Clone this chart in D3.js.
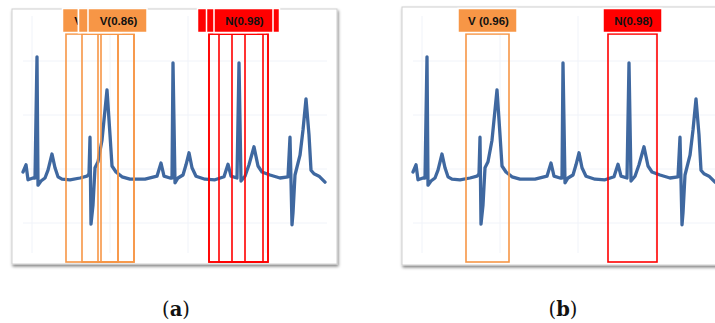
<!DOCTYPE html>
<html>
<head>
<meta charset="utf-8">
<script src="https://cdn.jsdelivr.net/npm/d3@7"></script>
<style>
body { margin: 0; background: #fff; }
</style>
</head>
<body>
<svg id="chart" width="715" height="323"></svg>
<script>
// ecg trace: [time (s), amplitude (mV)]
var ecg = [
	[0.00, 0.10], [0.03, 0.22], [0.05, -0.03], [0.10, 0.00], [0.12, 0.00], [0.14, 2.02],
	[0.15, -0.12], [0.18, -0.05], [0.22, 0.00], [0.25, 0.13], [0.29, 0.40], [0.32, 0.17],
	[0.35, 0.02], [0.39, -0.02], [0.47, -0.03], [0.57, 0.00], [0.64, 0.03], [0.66, 0.07],
	[0.67, 0.68], [0.68, -0.77], [0.70, -0.45], [0.72, 0.17], [0.75, 0.27], [0.79, 0.63],
	[0.84, 1.47], [0.87, 0.72], [0.89, 0.20], [0.93, 0.10], [0.99, 0.02], [1.07, -0.02],
	[1.22, -0.02], [1.34, 0.03], [1.38, 0.25], [1.41, 0.03], [1.47, 0.00], [1.49, 0.00],
	[1.50, 1.92], [1.52, -0.08], [1.55, 0.00], [1.60, 0.05], [1.63, 0.22], [1.66, 0.42],
	[1.69, 0.17], [1.73, 0.03], [1.82, -0.02], [1.92, -0.03], [2.01, 0.02], [2.05, 0.23],
	[2.08, 0.03], [2.14, 0.00], [2.16, 1.92], [2.18, -0.05], [2.22, 0.03], [2.26, 0.22],
	[2.31, 0.52], [2.35, 0.20], [2.39, 0.10], [2.47, 0.05], [2.57, 0.00], [2.65, 0.02],
	[2.67, 0.68], [2.69, -0.78], [2.70, -0.58], [2.72, 0.05], [2.77, 0.38], [2.80, 0.80],
	[2.83, 1.32], [2.86, 0.72], [2.88, 0.13], [2.91, 0.07], [2.96, 0.03], [3.02, -0.07]
];

var gridTime = [0.09, 0.87, 1.65, 2.43];
var gridValue = [-0.75, 0.15, 1.05, 1.95];

// detections, panel (a): many overlapping windows (covered labels show no text)
var detA = [
	{start: 0.43, end: 0.95, cls: 'V', label: 'V(0.86)'},
	{start: 0.75, end: 0.95, cls: 'V', label: ''},
	{start: 0.59, end: 1.11, cls: 'V', label: ''},
	{start: 0.78, end: 1.11, cls: 'V', label: 'V(0.86)'},
	{start: 1.86, end: 2.22, cls: 'N', label: ''},
	{start: 1.86, end: 2.40, cls: 'N', label: ''},
	{start: 2.09, end: 2.45, cls: 'N', label: ''},
	{start: 1.96, end: 2.45, cls: 'N', label: 'N(0.98)'}
];
// detections, panel (b): after merging
var detB = [
	{start: 0.53, end: 0.96, cls: 'V', label: 'V (0.96)'},
	{start: 1.95, end: 2.44, cls: 'N', label: 'N(0.98)'}
];

var captions = ['a', 'b'];

var colors = {V: '#f79646', N: '#ff0000'};
var boxTop = 2.4, boxBottom = -1.4;

var svg = d3.select('#chart');

var defs = svg.append('defs');
var shadow = defs.append('filter').attr('id', 'shadow')
	.attr('x', '-5%').attr('y', '-5%').attr('width', '110%').attr('height', '110%');
shadow.append('feDropShadow')
	.attr('dx', 1).attr('dy', 2).attr('stdDeviation', 1.6)
	.attr('flood-color', '#000').attr('flood-opacity', 0.5);

var panels = [
	{left: 12, top: 9, height: 255, dets: detA, caption: captions[0], capX: 176},
	{left: 402, top: 7, height: 258, dets: detB, caption: captions[1], capX: 563}
];

var y = d3.scaleLinear().domain([-1.5, 2.5]).range([268, 28]);

panels.forEach(function(p){
	var g = svg.append('g');
	var x = d3.scaleLinear().domain([0, 3]).range([p.left + 11, p.left + 311]);

	g.append('rect')
		.attr('x', p.left).attr('y', p.top)
		.attr('width', 325).attr('height', p.height)
		.attr('fill', '#fff')
		.attr('stroke', '#cfcfcf')
		.attr('stroke-width', 1)
		.attr('filter', 'url(#shadow)');

	// faint grid
	g.selectAll('.hg').data(gridValue).enter().append('line')
		.attr('x1', x(0)).attr('x2', x(3.04))
		.attr('y1', y).attr('y2', y)
		.attr('stroke', '#f0f3f9').attr('stroke-width', 1);
	g.selectAll('.vg').data(gridTime).enter().append('line')
		.attr('x1', x).attr('x2', x)
		.attr('y1', y(2.7)).attr('y2', y(-1.25))
		.attr('stroke', '#f0f3f9').attr('stroke-width', 1);

	var line = d3.line()
		.x(function(d){ return x(d[0]); })
		.y(function(d){ return y(d[1]); });

	g.append('path')
		.datum(ecg)
		.attr('d', line)
		.attr('fill', 'none')
		.attr('stroke', '#3f68a0')
		.attr('stroke-width', 3.3)
		.attr('stroke-linejoin', 'round')
		.attr('stroke-linecap', 'round');

	g.selectAll('.box').data(p.dets).enter().append('rect')
		.attr('x', function(d){ return x(d.start); })
		.attr('y', y(boxTop))
		.attr('width', function(d){ return x(d.end) - x(d.start); })
		.attr('height', y(boxBottom) - y(boxTop))
		.attr('fill', 'none')
		.attr('stroke', function(d){ return colors[d.cls]; })
		.attr('stroke-width', 1.6);

	var lab = g.selectAll('.lab').data(p.dets).enter().append('g');
	lab.append('rect')
		.attr('x', function(d){ return (x(d.start) + x(d.end)) / 2 - 29.5; })
		.attr('y', 8.5)
		.attr('width', 59).attr('height', 24)
		.attr('fill', function(d){ return colors[d.cls]; })
		.attr('stroke', '#fff').attr('stroke-width', 1.5);
	lab.append('text')
		.attr('x', function(d){ return (x(d.start) + x(d.end)) / 2 + 1; })
		.attr('y', 25)
		.attr('text-anchor', 'middle')
		.attr('font-family', 'Liberation Sans, Arial, sans-serif')
		.attr('font-weight', 'bold')
		.attr('font-size', '11.5px')
		.attr('fill', '#111')
		.text(function(d){ return d.label; });

	var cap = svg.append('text')
		.attr('x', p.capX).attr('y', 316)
		.attr('text-anchor', 'middle')
		.attr('font-family', 'DejaVu Serif, serif')
		.attr('font-size', '19.5px')
		.attr('fill', '#111');
	cap.append('tspan').text('(');
	cap.append('tspan').attr('font-weight', 'bold').text(p.caption);
	cap.append('tspan').text(')');
});
</script>
</body>
</html>
